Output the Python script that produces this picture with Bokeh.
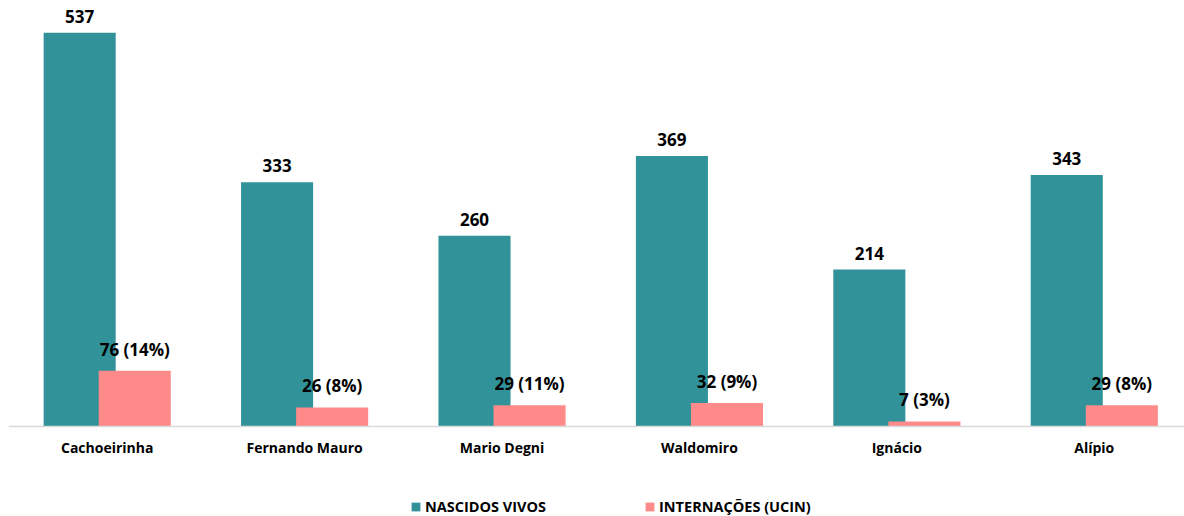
from bokeh.plotting import figure
from bokeh.models import ColumnDataSource, Range1d, Legend, LegendItem, LabelSet, Span
from bokeh.transform import dodge
from bokeh.core.properties import value
from bokeh.embed import file_html
from bokeh.resources import INLINE

units = ["Cachoeirinha", "Fernando Mauro", "Mario Degni", "Waldomiro", "Ignácio", "Alípio"]
nascidos = [537, 333, 260, 369, 214, 343]
internacoes = [76, 26, 29, 32, 7, 29]
pct = [14, 8, 11, 9, 3, 8]

idx = list(range(len(units)))
src = ColumnDataSource(dict(
    x=idx,
    unit=units,
    base=[0] * len(units),
    nasc=nascidos,
    inte=internacoes,
    nasc_lbl=[str(v) for v in nascidos],
    inte_lbl=[f"{v} ({p}%)" for v, p in zip(internacoes, pct)],
))

TEAL = "#31929A"
PINK = "#FF8A8A"
FONT = "Open Sans"

p = figure(frame_width=1176, frame_height=508, output_backend="svg", toolbar_location=None,
           x_range=Range1d(-0.5, 5.457), y_range=Range1d(-122.7, 570),
           min_border_left=8, min_border_right=0, min_border_top=8, min_border_bottom=0)
p.outline_line_color = None
p.xgrid.grid_line_color = None
p.ygrid.grid_line_color = None
p.xaxis.visible = False
p.yaxis.visible = False

off = 0.1395
w = 0.365
r1 = p.vbar(x=dodge("x", -off), top="nasc", width=w, source=src, color=TEAL, line_color=None)
r2 = p.vbar(x=dodge("x", off), top="inte", width=w, source=src, color=PINK, line_color=None)

# baseline (category axis line)
p.add_layout(Span(location=0, dimension="width", line_color="#D9D9D9", line_width=1.5))

for col, lbl, o in (("nasc", "nasc_lbl", -off), ("inte", "inte_lbl", off)):
    ls = LabelSet(x=dodge("x", o), y=col, text=lbl, source=src,
                  text_align="center", text_baseline="bottom", y_offset=10,
                  text_font=value(FONT), text_font_style="bold", text_font_size="17px",
                  text_color="#000000")
    p.add_layout(ls)

# category labels
p.add_layout(LabelSet(x="x", y="base", text="unit", source=src,
                      text_align="center", text_baseline="middle", y_offset=-21,
                      text_font=value(FONT), text_font_style="bold", text_font_size="14px",
                      text_color="#000000"))

legend = Legend(items=[LegendItem(label="NASCIDOS VIVOS", renderers=[r1]),
                       LegendItem(label="INTERNAÇÕES (UCIN)", renderers=[r2])],
                orientation="horizontal", location=(402, 0),
                padding=0, margin=0, spacing=98, label_standoff=4,
                glyph_width=11, glyph_height=11,
                label_text_font=FONT, label_text_font_style="bold",
                label_text_font_size="14.5px", label_text_color="#000000",
                border_line_alpha=0, background_fill_alpha=0)
p.add_layout(legend, "center")

open("out.html", "w").write(file_html(p, INLINE))
